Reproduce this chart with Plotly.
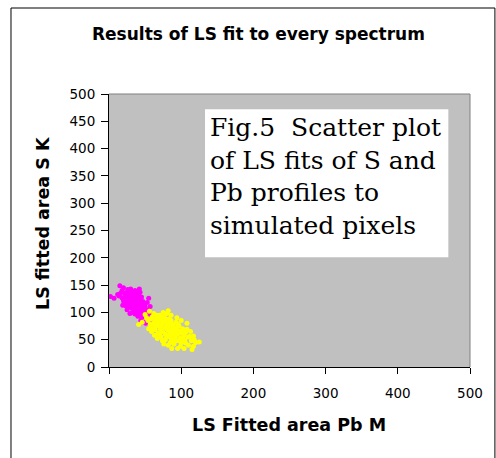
import plotly.graph_objects as go

title_text = "Results of LS fit to every spectrum"
x_title = "LS Fitted area Pb M"
y_title = "LS fitted area S K"
note_lines = ["Fig.5  Scatter plot", "of LS fits of S and", "Pb profiles to", "simulated pixels"]

x_ticks = [0, 100, 200, 300, 400, 500]
y_ticks = [0, 50, 100, 150, 200, 250, 300, 350, 400, 450, 500]

s_x = [2, 7, 12, 15, 18, 20, 22, 24, 25, 26, 28, 29, 30, 31, 32, 33, 34, 35, 36, 37, 38, 39, 40, 41, 42, 43, 44, 45, 46, 47,
       48, 49, 50, 51, 52, 53, 55, 57, 45, 51, 44, 40, 38, 36, 33, 30, 28, 26, 24, 22, 20, 18, 16, 14, 34, 37, 41, 43, 39, 35,
       31, 27, 47, 49, 42, 46, 53, 56, 58, 60, 32, 29, 36, 40, 44, 48, 25, 19, 21, 23, 27, 33, 35, 38, 30, 26, 42, 46, 50, 54]
s_y = [129, 126, 133, 149, 140, 145, 128, 136, 120, 142, 131, 125, 138, 118, 127, 133, 110, 122, 140, 115, 130, 105, 124, 118, 143, 112, 126, 128, 108, 120,
       100, 115, 110, 95, 105, 118, 126, 111, 91, 80, 98, 100, 112, 104, 117, 112, 122, 115, 130, 135, 122, 127, 135, 130, 135, 128, 132, 137, 120, 112,
       108, 110, 102, 92, 104, 116, 90, 98, 88, 95, 100, 98, 97, 93, 85, 82, 105, 113, 118, 112, 127, 124, 131, 137, 143, 138, 122, 110, 102, 100]

pb_x = [41, 46, 50, 56, 58, 60, 62, 64, 65, 66, 68, 70, 71, 72, 73, 74, 75, 76, 77, 78, 79, 80, 81, 82, 83, 84, 85, 86, 87, 88,
        89, 90, 91, 92, 93, 94, 95, 96, 97, 98, 99, 100, 101, 102, 104, 105, 106, 108, 108, 110, 112, 114, 115, 117, 117, 120, 125, 87, 95, 104,
        82, 85, 90, 78, 72, 68, 64, 61, 57, 54, 52, 55, 59, 63, 67, 70, 74, 76, 80, 84, 88, 92, 96, 100, 94, 86, 80, 75, 69, 66,
        62, 99, 110, 102, 106, 113, 118, 91, 86, 83, 78, 73, 70, 65]
pb_y = [78, 82, 96, 102, 88, 92, 98, 85, 75, 90, 80, 95, 70, 86, 78, 65, 83, 92, 72, 60, 88, 76, 68, 103, 80, 58, 73, 85, 65, 50,
        78, 70, 62, 55, 82, 68, 60, 48, 75, 66, 53, 45, 62, 70, 58, 50, 44, 80, 69, 55, 56, 48, 32, 38, 57, 45, 46, 34, 34, 34,
        40, 45, 42, 50, 55, 62, 68, 72, 78, 85, 90, 70, 65, 58, 52, 60, 48, 42, 55, 62, 58, 72, 78, 85, 90, 95, 98, 100, 88, 95,
        80, 38, 40, 52, 63, 65, 50, 47, 52, 88, 82, 92, 76, 82]

fig = go.Figure()
fig.add_trace(go.Scatter(x=s_x, y=s_y, mode="markers", marker=dict(color="#FF00FF", size=5, line=dict(width=0)),
                         showlegend=False, cliponaxis=False))
fig.add_trace(go.Scatter(x=pb_x, y=pb_y, mode="markers", marker=dict(color="#FFFF00", size=5, line=dict(width=0)),
                         showlegend=False, cliponaxis=False))

sans = "DejaVu Sans"
axis_font = dict(family=sans, size=13.5, color="black")
fig.update_layout(
    width=496, height=458,
    margin=dict(l=109, r=26, t=94, b=91),
    paper_bgcolor="white", plot_bgcolor="#C0C0C0",
    xaxis=dict(range=[0, 500], tickvals=x_ticks, ticks="outside", ticklen=6, tickcolor="black",
               showgrid=False, zeroline=False, showline=True, linecolor="black", linewidth=1,
               tickfont=axis_font, ticklabelstandoff=8, fixedrange=True),
    yaxis=dict(range=[0, 500], tickvals=y_ticks, ticks="outside", ticklen=7, tickcolor="black",
               showgrid=False, zeroline=False, showline=True, linecolor="black", linewidth=1,
               tickfont=axis_font, ticklabelstandoff=3, fixedrange=True),
    shapes=[
        dict(type="line", xref="paper", yref="paper", x0=0, x1=1, y0=1, y1=1, line=dict(color="#808080", width=1)),
        dict(type="line", xref="paper", yref="paper", x0=1, x1=1, y0=0, y1=1, line=dict(color="#808080", width=1)),
        dict(type="rect", xref="paper", yref="paper", x0=-0.2715, x1=1.069, y0=-0.36, y1=1.315,
             line=dict(color="black", width=1)),
        dict(type="rect", xref="x", yref="y", x0=133, x1=470, y0=201, y1=472,
             fillcolor="white", line=dict(width=0)),
    ],
    annotations=[
        dict(text="<b>" + title_text + "</b>", xref="paper", yref="paper", x=(258 - 109) / 361, y=(367 - 34) / 273,
             xanchor="center", yanchor="middle", showarrow=False,
             font=dict(family=sans, size=17, color="black")),
        dict(text="<b>" + x_title + "</b>", xref="paper", yref="paper", x=(289 - 109) / 361, y=(367 - 425) / 273,
             xanchor="center", yanchor="middle", showarrow=False,
             font=dict(family=sans, size=17.5, color="black")),
        dict(text="<b>" + y_title + "</b>", xref="paper", yref="paper", x=(43 - 109) / 361, y=(367 - 223) / 273,
             xanchor="center", yanchor="middle", showarrow=False, textangle=-90,
             font=dict(family=sans, size=17.5, color="black")),
        dict(text="<br>".join(note_lines), xref="x", yref="y", x=137, y=469, xanchor="left", yanchor="top",
             align="left", showarrow=False, font=dict(family="DejaVu Serif", size=25, color="black")),
    ],
)

fig.write_html("out.html")
